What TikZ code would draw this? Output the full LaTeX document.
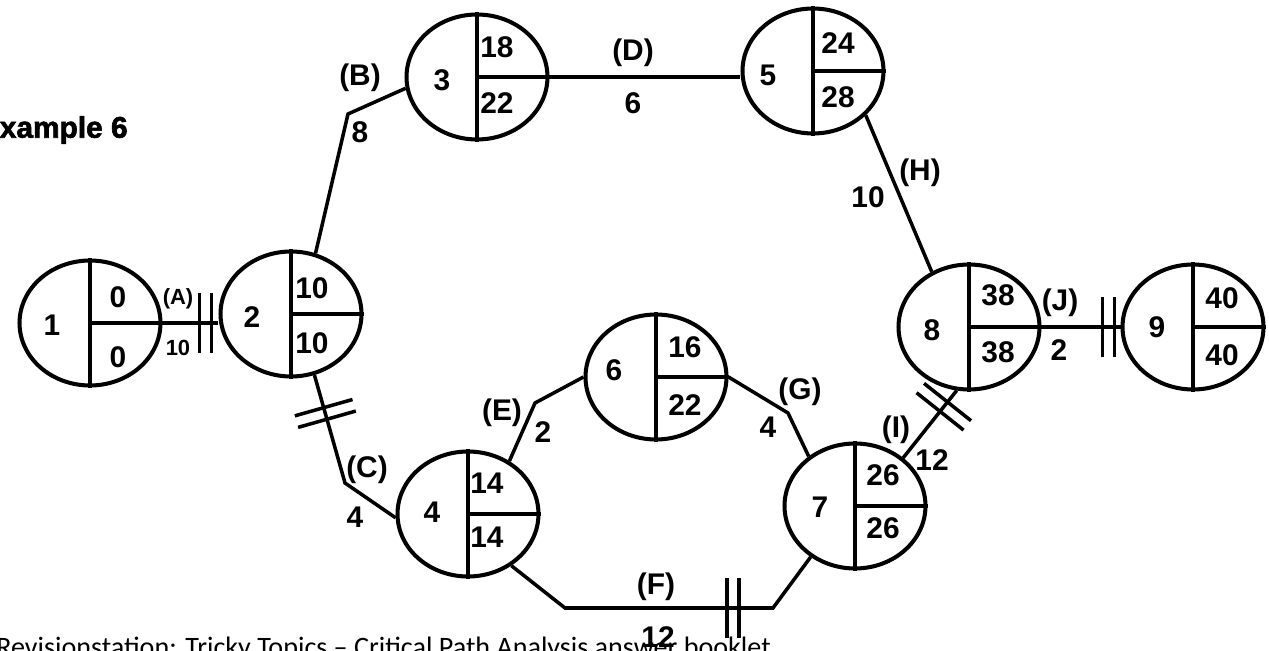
\documentclass[tikz,border=0pt]{standalone}
\usepackage{fontspec}
\setmainfont{Liberation Sans}
\newfontfamily\footfont{Carlito}
\newfontfamily\heavyfont[FakeBold=2]{Liberation Sans}
\usetikzlibrary{shapes.geometric,decorations.markings}
\tikzset{
  event/.style={ellipse,draw,line width=2.3pt,minimum width=2.82cm,minimum height=2.5cm,inner sep=0pt},
  div/.style={line width=2.6pt},
  act/.style={line width=2pt},
  lbl/.style={font=\fontsize{17}{19}\selectfont\bfseries,inner sep=0pt},
  smalllbl/.style={font=\fontsize{12.5}{14}\selectfont\bfseries,inner sep=0pt},
  crit/.style={postaction={decorate,decoration={markings,mark=at position #1 with
    {\draw[line width=2pt] (-0.12cm,-0.6cm) -- (-0.12cm,0.6cm) (0.12cm,-0.6cm) -- (0.12cm,0.6cm);}}}}
}
\begin{document}
\begin{tikzpicture}[x=0.02cm,y=-0.02cm]
    \useasboundingbox (0,0) rectangle (1269,651);

    % Title and footer
    \node[anchor=east,inner sep=0pt,font=\heavyfont\bfseries\fontsize{17}{19}\selectfont] (ttl) at (128,130) {xample 6};
    \node[anchor=base west,inner sep=0pt,font=\footfont\fontsize{16}{18}\selectfont] (foot) at (-4,657)
      {Revisionstation: Tricky Topics – Critical Path Analysis answer booklet};

    % Events
    \foreach \n/\x/\y in {1/90/323, 2/291/314, 3/477/77, 4/468/514, 5/813/71,
                          6/656/377, 7/855/506, 8/969/327, 9/1193/327} {
      \node[event] (n\n) at (\x,\y) {};
      \draw[div] (n\n.north) -- (n\n.south) (n\n.center) -- (n\n.east);
    }

    % Event numbers, earliest and latest times
    \foreach \k/\x/\y/\t in {num1/52/325/1, es1/118/297/0, lf1/118/357/0,
                             num2/252/317/2, es2/312/288/10, lf2/312/343/10,
                             num3/442/80/3, es3/497/47/18, lf3/497/103/22,
                             num4/432/512/4, es4/487/483/14, lf4/487/537/14,
                             num5/768/75/5, es5/838/43/24, lf5/838/97/28,
                             num6/614/370/6, es6/685/347/16, lf6/685/405/22,
                             num7/820/507/7, es7/883/475/26, lf7/883/528/26,
                             num8/932/330/8, es8/998/295/38, lf8/998/352/38,
                             num9/1157/327/9, es9/1222/298/40, lf9/1222/355/40}
      \node[lbl] (\k) at (\x,\y) {\t};

    % Bend points
    \coordinate (bB) at (348,114);
    \coordinate (bC) at (345,483);
    \coordinate (bE) at (535,403);
    \coordinate (bF1) at (565,608);
    \coordinate (bF2) at (773,608);
    \coordinate (bG) at (788,413);

    % Activities (critical ones crossed)
    \draw[act,crit=0.77] (n1.east) -- (n1.east -| n2.west);
    \draw[act] (n2.68) -- (bB) -- (n3.189);
    \draw[act,crit=0.23] (n2.291) -- (bC) -- (n4.183);
    \draw[act] (n3.east) -- (n3.east -| n5.west);
    \draw[act] (n4.52) -- (bE) -- (n6.west);
    \draw[act,crit=0.696] (n4.310) -- (bF1) -- (bF2) -- (n7.229);
    \draw[act] (n6.east) -- (bG) -- (n7.133);
    \draw[act] (n5.320) -- (n8.124);
    \draw[act,crit=0.76] (n7.45) -- (n8.259);
    \draw[act,crit=0.85] (n8) -- (n9);

    % Activity names and durations
    \node[smalllbl] (aA) at (178,299) {(A)};
    \node[smalllbl] (dA) at (178,348) {10};
    \foreach \k/\x/\y/\t in {aB/360/78/(B), dB/360/132/8, aC/367/470/(C), dC/355/517/4,
                             aD/633/53/(D), dD/633/103/6, aE/502/413/(E), dE/543/432/2,
                             aF/656/587/(F), dF/658/637/12, aG/800/392/(G), dG/768/427/4,
                             aH/920/173/(H), dH/868/197/10, aI/896/430/(I), dI/932/460/12,
                             aJ/1060/303/(J), dJ/1059/350/2}
      \node[lbl] (\k) at (\x,\y) {\t};
\end{tikzpicture}
\end{document}
